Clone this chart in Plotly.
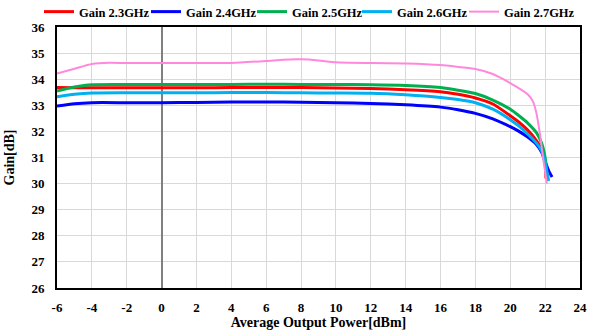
import plotly.graph_objects as go

names = ["Gain 2.3GHz", "Gain 2.4GHz", "Gain 2.5GHz", "Gain 2.6GHz", "Gain 2.7GHz"]
colors = ["#FF0000", "#0000FF", "#00B050", "#00B0F0", "#FF88DD"]
widths = [3, 3, 3, 3, 2]

x_23 = [-6, -5, -4, -2, 0, 2, 4, 6, 8, 10, 12, 14, 16, 17, 18, 19, 20, 20.5, 21, 21.5, 21.8, 22.0, 22.05]
y_23 = [33.68, 33.67, 33.67, 33.67, 33.67, 33.67, 33.68, 33.68, 33.68, 33.66, 33.64, 33.6, 33.52, 33.42, 33.28, 33.05, 32.6, 32.35, 32.05, 31.65, 31.3, 30.8, 30.2]

x_24 = [-6, -5, -4, -2, 0, 2, 4, 6, 8, 10, 12, 14, 16, 17, 18, 19, 20, 20.5, 21, 21.5, 21.8, 22.0, 22.2, 22.4]
y_24 = [32.97, 33.06, 33.1, 33.1, 33.1, 33.11, 33.13, 33.13, 33.12, 33.1, 33.07, 33.02, 32.93, 32.83, 32.69, 32.48, 32.18, 32.0, 31.78, 31.5, 31.2, 30.85, 30.5, 30.25]

x_25 = [-6, -5, -4, -2, 0, 2, 4, 6, 8, 10, 12, 14, 16, 17, 18, 19, 20, 20.5, 21, 21.5, 21.8, 22.0, 22.1]
y_25 = [33.55, 33.7, 33.79, 33.8, 33.8, 33.8, 33.8, 33.81, 33.8, 33.8, 33.79, 33.76, 33.68, 33.58, 33.45, 33.2, 32.85, 32.6, 32.32, 31.95, 31.55, 31.0, 30.3]

x_26 = [-6, -5, -4, -2, 0, 2, 4, 6, 8, 10, 12, 14, 16, 17, 18, 19, 20, 20.5, 21, 21.5, 21.8, 22.0, 22.2]
y_26 = [33.33, 33.42, 33.47, 33.48, 33.48, 33.48, 33.49, 33.49, 33.48, 33.47, 33.46, 33.4, 33.3, 33.22, 33.1, 32.85, 32.45, 32.2, 31.9, 31.55, 31.25, 30.8, 30.1]

x_27 = [-6, -5, -4, -3, -2, 0, 2, 4, 6, 7, 8, 9, 10, 12, 14, 16, 17, 18, 19, 19.6, 20, 20.5, 21, 21.3, 21.5, 21.7, 21.9, 22.1]
y_27 = [34.22, 34.4, 34.58, 34.63, 34.62, 34.62, 34.62, 34.62, 34.7, 34.75, 34.76, 34.72, 34.65, 34.62, 34.6, 34.54, 34.47, 34.39, 34.2, 34.0, 33.85, 33.65, 33.42, 33.15, 32.7, 31.9, 30.9, 30.0]

xs = [x_23, x_24, x_25, x_26, x_27]
ys = [y_23, y_24, y_25, y_26, y_27]

x_ticks = list(range(-6, 25, 2))
y_ticks = list(range(26, 37, 1))

font_family = "Times New Roman, Liberation Serif, serif"

# legend box left edges, in pixels of the page
legend_px = [39, 146, 252, 357, 464]
plot_left, plot_w = 57, 523

fig = go.Figure()
legend_ids = ["legend", "legend2", "legend3", "legend4", "legend5"]
for n, c, w, xv, yv, lid in zip(names, colors, widths, xs, ys, legend_ids):
    fig.add_trace(go.Scatter(x=xv, y=yv, name=n, mode="lines", legend=lid,
                             line=dict(color=c, width=w, shape="spline", smoothing=0.6)))

legend_style = dict(orientation="h", xanchor="left", y=1.0, yanchor="bottom",
                    font=dict(family=font_family, size=12.5, color="black", weight="bold"),
                    bgcolor="rgba(0,0,0,0)", itemwidth=30)

fig.update_layout(
    width=589, height=333,
    margin=dict(l=57, r=9, t=27, b=45, autoexpand=False),
    plot_bgcolor="white", paper_bgcolor="white",
    font=dict(family=font_family, size=13, color="black"),
    showlegend=True,
)
for lid, px in zip(legend_ids, legend_px):
    fig.update_layout({lid: dict(x=(px - plot_left) / plot_w, **legend_style)})

fig.update_xaxes(range=[-6, 24], tickvals=x_ticks, ticktext=[str(v) for v in x_ticks],
                 showgrid=True, gridcolor="#D9D9D9", gridwidth=1,
                 zeroline=True, zerolinecolor="#808080", zerolinewidth=2,
                 showline=True, linecolor="black", linewidth=2, mirror=True,
                 automargin=False, ticklabelstandoff=6,
                 tickfont=dict(family=font_family, size=13, weight="bold"),
                 title=dict(text="Average Output Power[dBm]", standoff=4,
                            font=dict(family=font_family, size=14, weight="bold")))
fig.update_yaxes(range=[26, 36], tickvals=y_ticks, ticktext=[str(v) for v in y_ticks],
                 showgrid=True, gridcolor="#D9D9D9", gridwidth=1, zeroline=False,
                 showline=True, linecolor="black", linewidth=2, mirror=True,
                 automargin=False, ticklabelstandoff=8,
                 tickfont=dict(family=font_family, size=13, weight="bold"),
                 title=dict(text="Gain[dB]", standoff=14,
                            font=dict(family=font_family, size=14, weight="bold")))

fig.write_html("out.html", config={"displayModeBar": False},
               post_script="document.body.style.margin='0px';")
